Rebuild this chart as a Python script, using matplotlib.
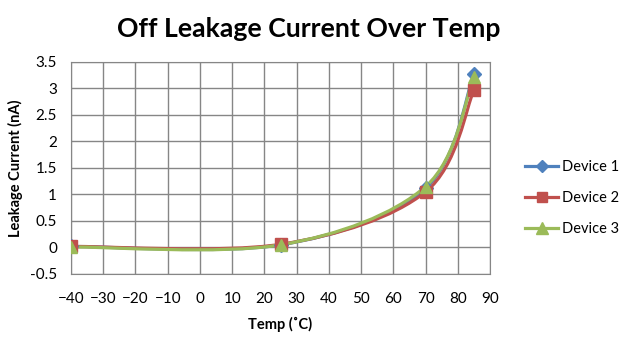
import matplotlib
matplotlib.use("Agg")
import matplotlib.pyplot as plt
from matplotlib.path import Path
from matplotlib.patches import PathPatch
from matplotlib.lines import Line2D

# data
temps = [-40, 25, 70, 85]
device1 = [0.02, 0.05, 1.12, 3.27]
device2 = [0.02, 0.06, 1.05, 2.97]
device3 = [0.01, 0.05, 1.15, 3.22]
names = ["Device 1", "Device 2", "Device 3"]

colors = ["#4F81BD", "#C0504D", "#9BBB59"]
markers = ["D", "s", "^"]
msizes = [7, 8.5, 9]

plt.rcParams['font.family'] = ['Lato', 'DejaVu Sans']


def smooth_path(xs, ys):
    # excel style smoothed line: cubic bezier between the points
    verts = [(xs[0], ys[0])]
    codes = [Path.MOVETO]
    n = len(xs)
    for i in range(n - 1):
        x0, y0 = (xs[i - 1], ys[i - 1]) if i > 0 else (xs[i], ys[i])
        x1, y1 = xs[i], ys[i]
        x2, y2 = xs[i + 1], ys[i + 1]
        x3, y3 = (xs[i + 2], ys[i + 2]) if i + 2 < n else (x2, y2)
        c1 = (x1 + (x2 - x0) / 6, y1 + (y2 - y0) / 6)
        c2 = (x2 - (x3 - x1) / 6, y2 - (y3 - y1) / 6)
        verts += [c1, c2, (x2, y2)]
        codes += [Path.CURVE4] * 3
    return Path(verts, codes)


fig = plt.figure(figsize=(6.23, 3.44), dpi=100)
ax = fig.add_axes([0.114, 0.2035, 0.6726, 0.6163])

handles = []
for vals, c, m, ms, name in zip([device1, device2, device3], colors, markers, msizes, names):
    patch = PathPatch(smooth_path(temps, vals), facecolor="none", edgecolor=c,
                      lw=2.3, zorder=3, capstyle="round")
    ax.add_patch(patch)
    ax.plot(temps, vals, linestyle="none", marker=m, ms=ms, color=c, zorder=4)
    handles.append(Line2D([], [], color=c, lw=2.3, marker=m, ms=ms - 1))

ax.set_xlim(-40, 90)
ax.set_ylim(-0.5, 3.5)
ax.set_xticks(range(-40, 91, 10))
ax.set_yticks([-0.5, 0, 0.5, 1, 1.5, 2, 2.5, 3, 3.5])
ax.set_yticklabels(["-0.5", "0", "0.5", "1", "1.5", "2", "2.5", "3", "3.5"])
ax.grid(True, color="#868686", lw=1)
ax.set_axisbelow(True)
for s in ax.spines.values():
    s.set_color("#868686")
ax.tick_params(length=0, labelsize=11)
ax.tick_params(axis="x", pad=13)
ax.tick_params(axis="y", pad=10)

ax.set_xlabel("Temp (˚C)", fontsize=10.5, fontweight="bold", labelpad=8)
ax.set_ylabel("Leakage Current (nA)", fontsize=10.5, fontweight="bold", labelpad=5)
fig.suptitle("Off Leakage Current Over Temp", fontsize=19.2, fontweight="bold",
             x=0.495, y=0.95)

fig.legend(handles, names, loc="center left", bbox_to_anchor=(0.833, 0.424),
           frameon=False, fontsize=10.5, handlelength=2.3, labelspacing=1.15,
           handletextpad=0.25, borderaxespad=0)

fig.savefig("out.png", dpi=100)
